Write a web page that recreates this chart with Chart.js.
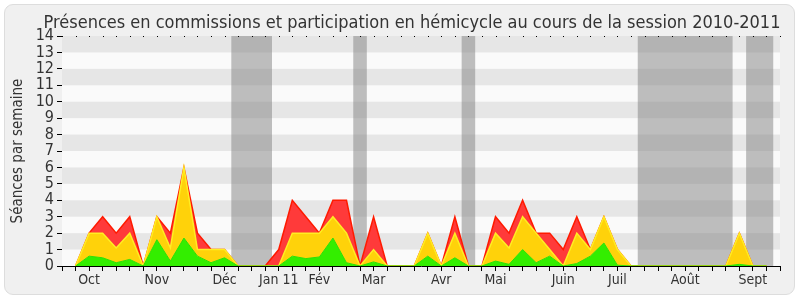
<!DOCTYPE html>
<html>
<head>
<meta charset="utf-8">
<script src="https://cdn.jsdelivr.net/npm/chart.js@4"></script>
<style>
  html, body { margin: 0; padding: 0; background: #ffffff; }
  #panel { position: absolute; left: 4px; top: 4px; width: 789px; height: 289px;
           background: #f0f0f0; border: 1px solid #dddddd; border-radius: 9px; }
  #wrap { position: absolute; left: 0; top: 0; width: 800px; height: 300px; }
</style>
</head>
<body>
<div id="panel"></div>
<div id="wrap"><canvas id="c" width="800" height="300"></canvas></div>
<script>
// ---- data ----
const chartTitle = "Présences en commissions et participation en hémicycle au cours de la session 2010-2011";
const yAxisTitle = "Séances par semaine";
// week index of each weekly point
const weeks = [0,1,2,3,4,5,6,7,8,9,10,11,12,13,14,15,16,17,18,19,20,21,22,23,24,25,26,27,28,29,30,31,32,33,34,35,36,37,38,39,40,41,42,43,44,45,46,47,48,49,50,51];
// green: commission presence
const commissions = [0,0.6,0.5,0.2,0.4,0,1.6,0.3,1.7,0.6,0.2,0.5,0,0,0,0,0.6,0.45,0.55,1.7,0.2,0,0.25,0,0,0,0.6,0,0.5,0,0,0.3,0.1,1,0.2,0.6,0,0.15,0.6,1.4,0.05,0,0,0,0,0,0,0,0,0.1,0,0];
// yellow: hemicycle presence (stacked on green)
const hemicycle = [0,1.4,1.5,0.9,1.6,0,1.4,0.8,4.3,0.4,0.8,0.5,0,0,0,0,1.4,1.55,1.45,1.3,1.8,0,0.75,0,0,0,1.4,0,1.5,0,0,1.7,1.0,2,1.8,0.4,0,1.85,0.4,1.6,0.95,0,0,0,0,0,0,0,0,1.9,0,0];
// red: participation (stacked on yellow)
const participation = [0,0,1,0.9,1,0,0,0.9,0,1,0,0,0,0,0,1,2,1,0,1,2,0,2,0,0,0,0,0,1,0,0,1,0.9,1,0,1,1,1,0,0,0,0,0,0,0,0,0,0,0,0,0,0];
// month labels and the week index they sit on
const monthLabels = ["Oct","Nov","Déc","Jan 11","Fév","Mar","Avr","Mai","Juin","Juil","Août","Sept"];
const monthWeeks  = [1,6,11,15,18,22,27,31,36,40,45,50];
// holiday bands (in week units)
const bandStarts = [11.5,20.5,28.5,41.5,49.5];
const bandEnds   = [14.5,21.5,29.5,48.5,51.5];
const yTicks = [0,1,2,3,4,5,6,7,8,9,10,11,12,13,14];

const FONT = "'DejaVu Sans Condensed','DejaVu Sans',sans-serif";
const TXT = "#333333";

const bgPlugin = {
  id: 'bg',
  beforeDatasetsDraw(chart) {
    const {ctx, chartArea: a, scales: {x, y}} = chart;
    ctx.save();
    ctx.fillStyle = '#fafafa';
    ctx.fillRect(a.left, a.top, a.right - a.left, a.bottom - a.top);
    ctx.fillStyle = '#e6e6e6';
    for (let v = 1; v < 14; v += 2) {
      const y1 = y.getPixelForValue(v + 1), y0 = y.getPixelForValue(v);
      ctx.fillRect(a.left, y1, a.right - a.left, y0 - y1);
    }
    ctx.fillStyle = 'rgba(128,128,128,0.5)';
    for (let k = 0; k < bandStarts.length; k++) {
      const x0 = x.getPixelForValue(bandStarts[k]), x1 = x.getPixelForValue(bandEnds[k]);
      ctx.fillRect(x0, a.top, x1 - x0, a.bottom - a.top);
    }
    ctx.restore();
  },
  afterDraw(chart) {
    const {ctx, chartArea: a, scales: {x}} = chart;
    ctx.save();
    ctx.fillStyle = '#000';
    for (let v = -1; v <= 52; v++) {
      ctx.fillRect(Math.round(x.getPixelForValue(v)), a.top, 1, 1);
    }
    ctx.fillStyle = TXT;
    ctx.font = "18px " + FONT;
    ctx.textAlign = 'center';
    ctx.textBaseline = 'alphabetic';
    ctx.fillText(chartTitle, 412, 28);
    ctx.restore();
  }
};

const pts = arr => weeks.map((w, i) => ({x: w, y: arr[i]}));

new Chart(document.getElementById('c'), {
  type: 'line',
  data: {
    datasets: [
      { label: 'Commissions', data: pts(commissions), fill: 'origin', backgroundColor: '#33ee00', borderColor: '#2ee000', borderWidth: 1, pointRadius: 0, tension: 0 },
      { label: 'Hémicycle', data: pts(hemicycle), fill: '-1', backgroundColor: '#ffd20a', borderColor: '#ffee22', borderWidth: 1.5, pointRadius: 0, tension: 0 },
      { label: 'Participation', data: pts(participation), fill: '-1', backgroundColor: '#ff3a3a', borderColor: '#ff1a00', borderWidth: 1.5, pointRadius: 0, tension: 0 }
    ]
  },
  options: {
    responsive: false,
    animation: false,
    devicePixelRatio: 1,
    layout: { padding: { top: 36, right: 20, left: 0, bottom: 0 } },
    plugins: { legend: { display: false }, title: { display: false }, tooltip: { enabled: false } },
    scales: {
      x: {
        type: 'linear', min: -1, max: 52,
        afterFit(s) { s.height = 34; },
        afterBuildTicks(s) { s.ticks = []; for (let v = -1; v <= 52; v++) s.ticks.push({value: v}); },
        grid: { drawOnChartArea: false, drawTicks: true, tickLength: 5, color: '#000' },
        border: { color: '#000', width: 1 },
        ticks: {
          autoSkip: false, maxRotation: 0, padding: 1, color: TXT,
          font: { family: FONT, size: 14 },
          callback: v => { const k = monthWeeks.indexOf(v); return k >= 0 ? monthLabels[k] : ''; }
        }
      },
      y: {
        min: 0, max: 14, stacked: true,
        afterFit(s) { s.width = 62; },
        afterBuildTicks(s) { s.ticks = yTicks.map(v => ({value: v})); },
        grid: { drawOnChartArea: false, drawTicks: true, tickLength: 5, color: '#000' },
        border: { color: '#000', width: 1 },
        ticks: { autoSkip: false, padding: 3, color: TXT, font: { family: FONT, size: 16 } },
        title: { display: true, text: yAxisTitle, color: TXT, font: { family: FONT, size: 15 }, padding: { top: 9, bottom: 0 } }
      }
    }
  },
  plugins: [bgPlugin]
});
</script>
</body>
</html>
